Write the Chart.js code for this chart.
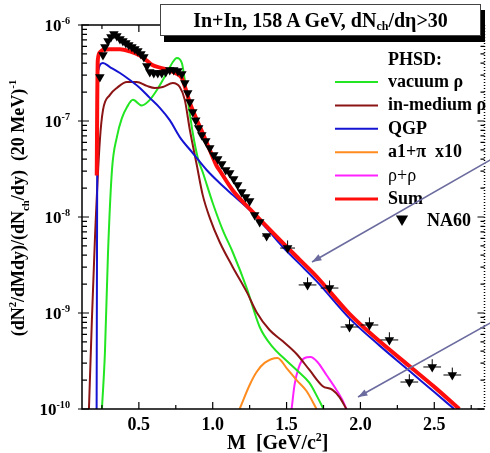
<!DOCTYPE html>
<html>
<head>
<meta charset="utf-8">
<script src="https://cdn.jsdelivr.net/npm/chart.js@4.4.1/dist/chart.umd.min.js"></script>
<style>
  html, body { margin: 0; padding: 0; background: #fff; }
  #wrap { position: relative; width: 490px; height: 453px; overflow: hidden; }
  #title {
    position: absolute; left: 160px; top: 4px; width: 319px; height: 30px;
    border: 1px solid #444; background: #fff; box-shadow: 4px 6px 0 #000;
    font: bold 20px "Liberation Serif", serif; text-align: center; line-height: 30px;
  }
  #title sub { font-size: 12px; vertical-align: -3px; line-height: 0; }
</style>
</head>
<body>
<div id="wrap">
  <canvas id="chart" width="490" height="453"></canvas>
  <div id="title">In+In, 158 A GeV, dN<sub>ch</sub>/dη&gt;30</div>
</div>
<script>
// tick labels
const xTickValues = [0.5, 1.0, 1.5, 2.0, 2.5];
const xTickLabels = ['0.5', '1.0', '1.5', '2.0', '2.5'];
const yTickExponents = [-6, -7, -8, -9, -10];

// PHSD vacuum rho
const vacuumM = [0.25, 0.27, 0.291, 0.318, 0.351, 0.385, 0.42, 0.46, 0.52, 0.574, 0.622, 0.689, 0.73, 0.757, 0.791, 0.811, 0.831, 0.865, 0.899, 0.932, 1.0, 1.068, 1.135, 1.23, 1.318, 1.405, 1.473, 1.568, 1.655, 1.709, 1.75];
const vacuumY = [1e-10, 3.8e-10, 4.2e-9, 3.1e-8, 6.8e-8, 1.07e-7, 1.4e-7, 1.66e-7, 1.45e-7, 1.66e-7, 2.1e-7, 3.16e-7, 4.12e-7, 4.53e-7, 4.02e-7, 2.67e-7, 1.66e-7, 7.5e-8, 4.12e-8, 2.94e-8, 1.4e-8, 7.3e-9, 4.32e-9, 1.82e-9, 7.15e-10, 4.43e-10, 3.48e-10, 2.55e-10, 1.87e-10, 1.33e-10, 1e-10];

// PHSD in-medium rho
const inMediumM = [0.162, 0.182, 0.203, 0.236, 0.257, 0.304, 0.351, 0.419, 0.486, 0.554, 0.608, 0.662, 0.73, 0.777, 0.811, 0.845, 0.892, 0.932, 0.98, 1.047, 1.135, 1.23, 1.297, 1.385, 1.473, 1.568, 1.655, 1.743, 1.811, 1.858, 1.905];
const inMediumY = [1e-10, 8.5e-10, 6.2e-9, 6.3e-8, 1.3e-7, 1.87e-7, 2.21e-7, 2.55e-7, 2.55e-7, 2.32e-7, 2.21e-7, 2.26e-7, 2.49e-7, 2.26e-7, 1.66e-7, 8.1e-8, 3.48e-8, 1.7e-8, 9.8e-9, 5.49e-9, 3.02e-9, 1.66e-9, 1.02e-9, 6.65e-10, 5.1e-10, 3.74e-10, 2.55e-10, 1.74e-10, 1.58e-10, 1.33e-10, 1e-10];

// QGP
const qgpM = [0.214, 0.218, 0.223, 0.257, 0.304, 0.372, 0.439, 0.507, 0.574, 0.642, 0.709, 0.777, 0.865, 0.959, 1.047, 1.135, 1.25, 1.365, 1.473, 1.588, 1.703, 1.926, 2.128, 2.331, 2.5, 2.635];
const qgpY = [1e-10, 3e-8, 3.24e-7, 4.02e-7, 3.65e-7, 3.16e-7, 2.67e-7, 2.21e-7, 1.74e-7, 1.37e-7, 1.02e-7, 6.8e-8, 4.64e-8, 3.09e-8, 2.26e-8, 1.7e-8, 1.18e-8, 7.6e-9, 4.9e-9, 3.25e-9, 2.15e-9, 8.8e-10, 4.6e-10, 2.5e-10, 1.5e-10, 1e-10];

// a1 + pi (x10)
const a1piM = [1.182, 1.25, 1.297, 1.351, 1.439, 1.5, 1.568, 1.635, 1.703];
const a1piY = [1e-10, 1.78e-10, 2.43e-10, 3.02e-10, 3.4e-10, 2.67e-10, 2.0e-10, 1.54e-10, 1e-10];

// rho + rho
const rhoRhoM = [1.534, 1.554, 1.581, 1.622, 1.662, 1.709, 1.77, 1.838, 1.878, 1.905];
const rhoRhoY = [1e-10, 1.78e-10, 2.67e-10, 3.4e-10, 3.48e-10, 3.09e-10, 2.26e-10, 1.58e-10, 1.24e-10, 1e-10];

// Sum
const sumM = [0.215, 0.218, 0.222, 0.236, 0.257, 0.304, 0.372, 0.439, 0.507, 0.554, 0.588, 0.642, 0.709, 0.757, 0.791, 0.811, 0.845, 0.892, 0.932, 0.98, 1.027, 1.047, 1.135, 1.27, 1.473, 1.588, 1.703, 1.926, 2.128, 2.331, 2.5, 2.669];
const sumY = [2.7e-8, 1.5e-7, 4.3e-7, 5.2e-7, 5.5e-7, 5.6e-7, 5.6e-7, 5.3e-7, 4.8e-7, 4.25e-7, 3.85e-7, 3.6e-7, 3.35e-7, 3.1e-7, 2.8e-7, 2.3e-7, 1.55e-7, 1.03e-7, 7.5e-8, 5.0e-8, 3.4e-8, 3.05e-8, 1.9e-8, 1.13e-8, 5.4e-9, 3.6e-9, 2.4e-9, 9.8e-10, 5.1e-10, 2.8e-10, 1.7e-10, 1e-10];

// NA60 data
const na60M = [0.236, 0.257, 0.27, 0.291, 0.311, 0.331, 0.351, 0.372, 0.392, 0.412, 0.432, 0.453, 0.473, 0.493, 0.514, 0.534, 0.554, 0.574, 0.601, 0.628, 0.655, 0.682, 0.709, 0.736, 0.764, 0.791, 0.811, 0.831, 0.845, 0.865, 0.885, 0.905, 0.926, 0.953, 0.98, 1.007, 1.034, 1.061, 1.088, 1.115, 1.142, 1.169, 1.196, 1.223, 1.25, 1.284, 1.318, 1.365, 1.507, 1.642, 1.791, 1.926, 2.061, 2.196, 2.331, 2.486, 2.622];
const na60Y = [2.87e-7, 4.87e-7, 5.9e-7, 6.81e-7, 7.5e-7, 8.06e-7, 7.68e-7, 7.15e-7, 6.81e-7, 6.49e-7, 6.19e-7, 5.9e-7, 5.62e-7, 5.36e-7, 4.99e-7, 4.64e-7, 3.74e-7, 3.24e-7, 3.16e-7, 3.16e-7, 3.16e-7, 3.24e-7, 3.4e-7, 3.4e-7, 3.32e-7, 3.09e-7, 2.49e-7, 1.96e-7, 1.58e-7, 1.24e-7, 1.02e-7, 8.45e-8, 7.15e-8, 6.19e-8, 5.24e-8, 4.43e-8, 4.02e-8, 3.56e-8, 3.09e-8, 2.87e-8, 2.49e-8, 2.15e-8, 1.82e-8, 1.62e-8, 1.47e-8, 1.05e-8, 8.87e-9, 6.34e-9, 4.75e-9, 1.96e-9, 1.82e-9, 7.15e-10, 7.5e-10, 5.24e-10, 1.91e-10, 2.74e-10, 2.26e-10];
const na60MErr = [0.01, 0.01, 0.01, 0.01, 0.01, 0.01, 0.01, 0.01, 0.01, 0.01, 0.01, 0.01, 0.01, 0.01, 0.01, 0.01, 0.01, 0.01, 0.01, 0.01, 0.01, 0.01, 0.01, 0.01, 0.01, 0.01, 0.01, 0.01, 0.01, 0.01, 0.01, 0.01, 0.01, 0.01, 0.01, 0.01, 0.01, 0.01, 0.01, 0.01, 0.01, 0.01, 0.01, 0.01, 0.015, 0.02, 0.02, 0.03, 0.05, 0.06, 0.06, 0.06, 0.06, 0.06, 0.06, 0.06, 0.06];
// upper end of the statistical error (0 = hidden under the marker)
const na60YUp = [0, 0, 0, 0, 0, 0, 0, 0, 0, 0, 0, 0, 0, 0, 0, 0, 0, 0, 0, 0, 0, 0, 0, 0, 0, 0, 0, 0, 0, 0, 0, 0, 0, 0, 0, 0, 0, 0, 0, 0, 0, 0, 0, 0, 0, 0, 0, 0, 5.7e-9, 2.35e-9, 2.18e-9, 8.6e-10, 9.0e-10, 6.3e-10, 2.3e-10, 3.3e-10, 2.7e-10];

const serif = '"Liberation Serif", "Times New Roman", serif';

function pts(m, v) {
  return m.map((mm, i) => ({ x: mm, y: v[i] }));
}

function curve(label, m, v, color, width, order) {
  return {
    label: label,
    data: pts(m, v),
    borderColor: color,
    backgroundColor: color,
    borderWidth: width,
    pointRadius: 0,
    fill: false,
    cubicInterpolationMode: 'monotone',
    order: order
  };
}

// writes text made of normal / sup / sub pieces, starting at x (baseline y)
function richText(ctx, parts, x, y, size, weight) {
  let cx = x;
  parts.forEach(p => {
    let fs = size, dy = 0;
    if (p.s === 'sup') { fs = size * 0.6; dy = -size * 0.42; }
    if (p.s === 'sub') { fs = size * 0.6; dy = size * 0.25; }
    ctx.font = weight + ' ' + fs + 'px ' + serif;
    ctx.fillText(p.t, cx, y + dy);
    cx += ctx.measureText(p.t).width;
  });
  return cx - x;
}

function richWidth(ctx, parts, size, weight) {
  let w = 0;
  parts.forEach(p => {
    const fs = (p.s === 'sup' || p.s === 'sub') ? size * 0.6 : size;
    ctx.font = weight + ' ' + fs + 'px ' + serif;
    w += ctx.measureText(p.t).width;
  });
  return w;
}

function downTriangle(ctx, x, y, r) {
  ctx.beginPath();
  ctx.moveTo(x - r * 0.87, y - r * 0.5);
  ctx.lineTo(x + r * 0.87, y - r * 0.5);
  ctx.lineTo(x, y + r);
  ctx.closePath();
  ctx.fill();
}

function arrow(ctx, x1, y1, x2, y2) {
  const ang = Math.atan2(y2 - y1, x2 - x1);
  ctx.beginPath();
  ctx.moveTo(x1, y1);
  ctx.lineTo(x2, y2);
  ctx.stroke();
  ctx.beginPath();
  ctx.moveTo(x2, y2);
  ctx.lineTo(x2 - 10 * Math.cos(ang - 0.35), y2 - 10 * Math.sin(ang - 0.35));
  ctx.lineTo(x2 - 10 * Math.cos(ang + 0.35), y2 - 10 * Math.sin(ang + 0.35));
  ctx.closePath();
  ctx.fill();
}

const decor = {
  id: 'decor',
  afterDatasetsDraw(chart) {
    const { ctx, scales: { x, y } } = chart;
    // NA60 error bars
    ctx.save();
    ctx.strokeStyle = '#000';
    ctx.lineWidth = 1;
    na60M.forEach((m, i) => {
      const px = x.getPixelForValue(m);
      const py = y.getPixelForValue(na60Y[i]);
      ctx.beginPath();
      ctx.moveTo(x.getPixelForValue(m - na60MErr[i]), py);
      ctx.lineTo(x.getPixelForValue(m + na60MErr[i]), py);
      if (na60YUp[i] > 0) {
        ctx.moveTo(px, py);
        ctx.lineTo(px, y.getPixelForValue(na60YUp[i]));
      }
      ctx.stroke();
    });
    ctx.restore();
  },
  afterDraw(chart) {
    const { ctx, chartArea: a, scales: { x, y } } = chart;
    ctx.save();
    ctx.strokeStyle = '#000';
    ctx.fillStyle = '#000';

    // frame
    ctx.lineWidth = 1.5;
    ctx.beginPath();
    ctx.moveTo(a.right, a.top);
    ctx.lineTo(a.left, a.top);
    ctx.lineTo(a.left, a.bottom);
    ctx.lineTo(a.right, a.bottom);
    ctx.stroke();
    ctx.setLineDash([1, 2]);
    ctx.beginPath();
    ctx.moveTo(a.right, a.top);
    ctx.lineTo(a.right, a.bottom);
    ctx.stroke();
    ctx.setLineDash([]);

    // y ticks (log)
    ctx.lineWidth = 1.2;
    yTickExponents.forEach(e => {
      const py = y.getPixelForValue(Math.pow(10, e));
      ctx.beginPath();
      ctx.moveTo(a.left - 4, py); ctx.lineTo(a.left + 7, py);
      ctx.moveTo(a.right - 7, py); ctx.lineTo(a.right, py);
      ctx.stroke();
      if (e < -6) {
        for (let k = 2; k <= 9; k++) {
          const pm = y.getPixelForValue(k * Math.pow(10, e));
          ctx.beginPath();
          ctx.moveTo(a.left, pm); ctx.lineTo(a.left + 5, pm);
          ctx.moveTo(a.right - 4, pm); ctx.lineTo(a.right, pm);
          ctx.stroke();
        }
      }
      // label 10^e
      const parts = [{ t: '10', s: 'n' }, { t: String(e), s: 'sup' }];
      const w = richWidth(ctx, parts, 17, 'bold');
      richText(ctx, parts, 70 - w, py + 6, 17, 'bold');
    });

    // x ticks
    for (let t = 0.25; t < 2.84; t += 0.25) {
      const px = x.getPixelForValue(t);
      const len = Math.abs(t * 2 - Math.round(t * 2)) < 1e-6 ? 7 : 4;
      ctx.beginPath();
      ctx.moveTo(px, a.bottom); ctx.lineTo(px, a.bottom - len);
      ctx.moveTo(px, a.top); ctx.lineTo(px, a.top + len);
      ctx.stroke();
    }
    ctx.font = 'bold 18px ' + serif;
    ctx.textAlign = 'center';
    xTickValues.forEach((v, i) => {
      ctx.fillText(xTickLabels[i], x.getPixelForValue(v), 430);
    });
    ctx.textAlign = 'left';

    // axis titles
    richText(ctx, [{ t: 'M  [GeV/c', s: 'n' }, { t: '2', s: 'sup' }, { t: ']', s: 'n' }], 227, 449, 20, 'bold');

    const yParts = [
      { t: '(dN', s: 'n' }, { t: '2', s: 'sup' }, { t: '/dMdy)/(dN', s: 'n' }, { t: 'ch', s: 'sub' },
      { t: '/dy)  (20 MeV)', s: 'n' }, { t: '-1', s: 'sup' }
    ];
    ctx.save();
    ctx.translate(24, 208);
    ctx.rotate(-Math.PI / 2);
    const yw = richWidth(ctx, yParts, 18, 'bold');
    richText(ctx, yParts, -yw / 2, 0, 18, 'bold');
    ctx.restore();

    // legend
    const legend = [
      { label: 'vacuum ρ', color: '#22e622', w: 2, weight: 'bold' },
      { label: 'in-medium ρ', color: '#8b1414', w: 2, weight: 'bold' },
      { label: 'QGP', color: '#1414d2', w: 2, weight: 'bold' },
      { label: 'a1+π  x10', color: '#ff8c1e', w: 2, weight: 'bold' },
      { label: 'ρ+ρ', color: '#ff22ff', w: 2, weight: 'normal' },
      { label: 'Sum', color: '#ff0d0d', w: 3, weight: 'bold' }
    ];
    ctx.font = 'bold 18px ' + serif;
    ctx.fillText('PHSD:', 388, 65);
    legend.forEach((it, i) => {
      const ly = 82 + i * 23.4;
      ctx.strokeStyle = it.color;
      ctx.lineWidth = it.w;
      ctx.beginPath();
      ctx.moveTo(335, ly); ctx.lineTo(378, ly);
      ctx.stroke();
      ctx.fillStyle = '#000';
      ctx.font = it.weight + ' 18px ' + serif;
      ctx.fillText(it.label, 388, ly + 5);
    });
    downTriangle(ctx, 402, 219, 7);
    ctx.font = 'bold 18px ' + serif;
    ctx.fillText('NA60', 427, 226);

    // arrows
    ctx.strokeStyle = '#6b6b9f';
    ctx.fillStyle = '#6b6b9f';
    ctx.lineWidth = 1.6;
    arrow(ctx, 492, 159, 312, 262);
    arrow(ctx, 492, 322, 358, 397);
    ctx.restore();
  }
};

new Chart(document.getElementById('chart').getContext('2d'), {
  type: 'line',
  data: {
    datasets: [
      {
        label: 'NA60',
        data: pts(na60M, na60Y),
        showLine: false,
        pointStyle: 'triangle',
        rotation: 180,
        pointRadius: 5.5,
        pointBackgroundColor: '#000',
        pointBorderColor: '#000',
        pointBorderWidth: 0,
        order: 0
      },
      curve('Sum', sumM, sumY, '#ff0d0d', 4, 1),
      curve('QGP', qgpM, qgpY, '#1414d2', 2, 2),
      curve('in-medium ρ', inMediumM, inMediumY, '#8b1414', 2, 3),
      curve('vacuum ρ', vacuumM, vacuumY, '#22e622', 2, 4),
      curve('a1+π x10', a1piM, a1piY, '#ff8c1e', 2, 5),
      curve('ρ+ρ', rhoRhoM, rhoRhoY, '#ff22ff', 2, 6)
    ]
  },
  options: {
    responsive: false,
    animation: false,
    devicePixelRatio: 1,
    layout: { padding: { left: 82, right: 5, top: 25, bottom: 44 } },
    plugins: { legend: { display: false }, tooltip: { enabled: false } },
    scales: {
      x: { type: 'linear', min: 0.115, max: 2.84, display: false },
      y: { type: 'logarithmic', min: 1e-10, max: 1e-6, display: false }
    }
  },
  plugins: [decor]
});
</script>
</body>
</html>
